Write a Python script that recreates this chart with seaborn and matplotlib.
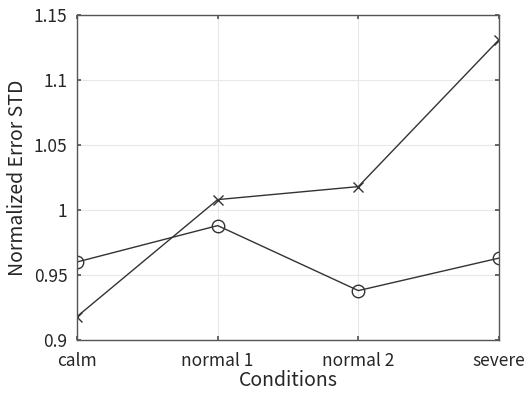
import matplotlib
matplotlib.use("Agg")
import matplotlib.pyplot as plt
import seaborn as sns
import pandas as pd

conditions = ["calm", "normal 1", "normal 2", "severe"]
series_x = [0.918, 1.008, 1.018, 1.131]
series_o = [0.960, 0.988, 0.938, 0.963]
yticks = [0.9, 0.95, 1.0, 1.05, 1.1, 1.15]
ytick_labels = ["0.9", "0.95", "1", "1.05", "1.1", "1.15"]

sns.set_theme(style="whitegrid")
plt.rcParams['font.family'] = ['Noto Sans CJK JP', 'DejaVu Sans']

fig = plt.figure(figsize=(5.29, 3.94), dpi=100)
ax = fig.add_axes([77/529, 1-340/394, (499-77)/529, (340-15)/394])

pos = list(range(len(conditions)))
df_x = pd.DataFrame({"pos": pos, "val": series_x})
df_o = pd.DataFrame({"pos": pos, "val": series_o})

col = "#333333"
sns.lineplot(data=df_x, x="pos", y="val", ax=ax, color=col, linewidth=1.0,
             marker="x", markersize=7, markeredgewidth=1.0, markeredgecolor=col)
sns.lineplot(data=df_o, x="pos", y="val", ax=ax, color=col, linewidth=1.0,
             marker="o", markersize=9, markerfacecolor="none",
             markeredgewidth=1.0, markeredgecolor=col)

ax.set_xlim(0, 3)
ax.set_ylim(0.9, 1.15)
ax.set_xticks(pos)
ax.set_xticklabels(conditions)
ax.set_yticks(yticks)
ax.set_yticklabels(ytick_labels)
ax.set_xlabel("Conditions", fontsize=14, color="#262626", labelpad=0)
ax.set_ylabel("Normalized Error STD", fontsize=14, color="#262626", labelpad=4)

ax.set_facecolor("white")
ax.grid(True, color="#e8e8e8", linewidth=0.8)
for s in ax.spines.values():
    s.set_visible(True)
    s.set_color("#555555")
    s.set_linewidth(1.0)
ax.tick_params(axis="both", direction="in", length=3, color="#555555",
               labelsize=12.5, labelcolor="#262626", top=True, right=True,
               left=True, bottom=True)
ax.tick_params(axis="y", pad=7)
ax.tick_params(axis="x", pad=9)

fig.savefig("out.png", dpi=100)
